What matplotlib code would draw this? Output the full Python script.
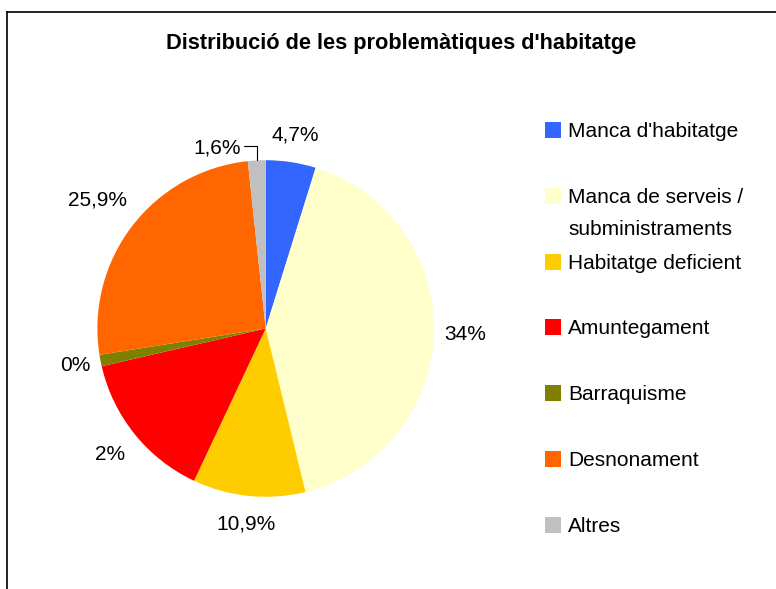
import numpy as np
import matplotlib
matplotlib.use('Agg')
import matplotlib.pyplot as plt
from matplotlib import font_manager
from matplotlib.patches import Rectangle
from matplotlib.lines import Line2D

# categories and slice sizes, labels as they are printed
categories = ["Manca d'habitatge", "Manca de serveis /\nsubministraments",
              "Habitatge deficient", "Amuntegament", "Barraquisme",
              "Desnonament", "Altres"]
shares = [4.8, 41.4, 10.8, 14.4, 1.1, 25.8, 1.7]
pct_labels = ["4,7%", "34%", "10,9%", "2%", "0%", "25,9%", "1,6%"]
colors = ['#3366FF', '#FFFFCC', '#FFCC00', '#FF0000', '#808000', '#FF6600', '#C0C0C0']

names = {f.name for f in font_manager.fontManager.ttflist}
if 'Liberation Sans Narrow' in names:
    fam, fs, fs_title = 'Liberation Sans Narrow', 16, 16
else:
    fam, fs, fs_title = 'Liberation Sans', 15, 15.7
plt.rcParams['font.family'] = [fam, 'DejaVu Sans']

W, H = 776, 589
fig = plt.figure(figsize=(W / 100, H / 100), dpi=100)

def fx(px):
    return px / W

def fy(py):
    return 1 - py / H

# pie placement (pixels)
cx, cy, r = 265.7, 328.5, 168.3
ax = fig.add_axes([fx(cx - r), fy(cy + r), 2 * r / W, 2 * r / H])
wedges, _ = ax.pie(shares, colors=colors, startangle=90, counterclock=False,
                   wedgeprops=dict(linewidth=0))
ax.set_xlim(-1, 1)
ax.set_ylim(-1, 1)
ax.set_aspect('auto')

# data labels
label_r = [1.16, 1.185, 1.165, 1.19, 1.15, 1.26]
for w, lab, rr in zip(wedges[:-1], pct_labels[:-1], label_r):
    a = np.deg2rad((w.theta1 + w.theta2) / 2)
    ax.text(rr * np.cos(a), rr * np.sin(a), lab, ha='center', va='center',
            fontsize=fs, color='black')

# small slice with a leader line
w = wedges[-1]
a = np.deg2rad((w.theta1 + w.theta2) / 2)
ax.annotate(pct_labels[-1], xy=(np.cos(a), np.sin(a)),
            xytext=((241 - cx) / r, (cy - 148) / r), ha='right', va='center',
            fontsize=fs, color='black',
            arrowprops=dict(arrowstyle='-', color='black', lw=0.8,
                            shrinkA=0, shrinkB=0, relpos=(1, 0.6),
                            connectionstyle='angle,angleA=0,angleB=90,rad=0'))

# title
fig.text(fx(401.5), fy(49), "Distribució de les problemàtiques d'habitatge",
         ha='center', va='baseline', fontsize=fs_title, fontweight='bold')

# legend drawn by hand to keep the Excel spacing
for i, (cat, col) in enumerate(zip(categories, colors)):
    yc = 130 + 65.8 * i
    fig.patches.append(Rectangle((fx(545), fy(yc + 8)), 16 / W, 16 / H,
                                 transform=fig.transFigure, facecolor=col,
                                 edgecolor='none'))
    for j, line in enumerate(cat.split('\n')):
        fig.text(fx(568), fy(yc + 7 + 32 * j), line, ha='left', va='baseline',
                 fontsize=fs, color='black')

# chart area border (left and top visible)
fig.add_artist(Line2D([fx(7), fx(7)], [fy(12), 0], color='black', lw=1.2,
                      transform=fig.transFigure))
fig.add_artist(Line2D([fx(7), 1], [fy(12), fy(12)], color='black', lw=1.2,
                      transform=fig.transFigure))

fig.savefig('out.png', dpi=100)
